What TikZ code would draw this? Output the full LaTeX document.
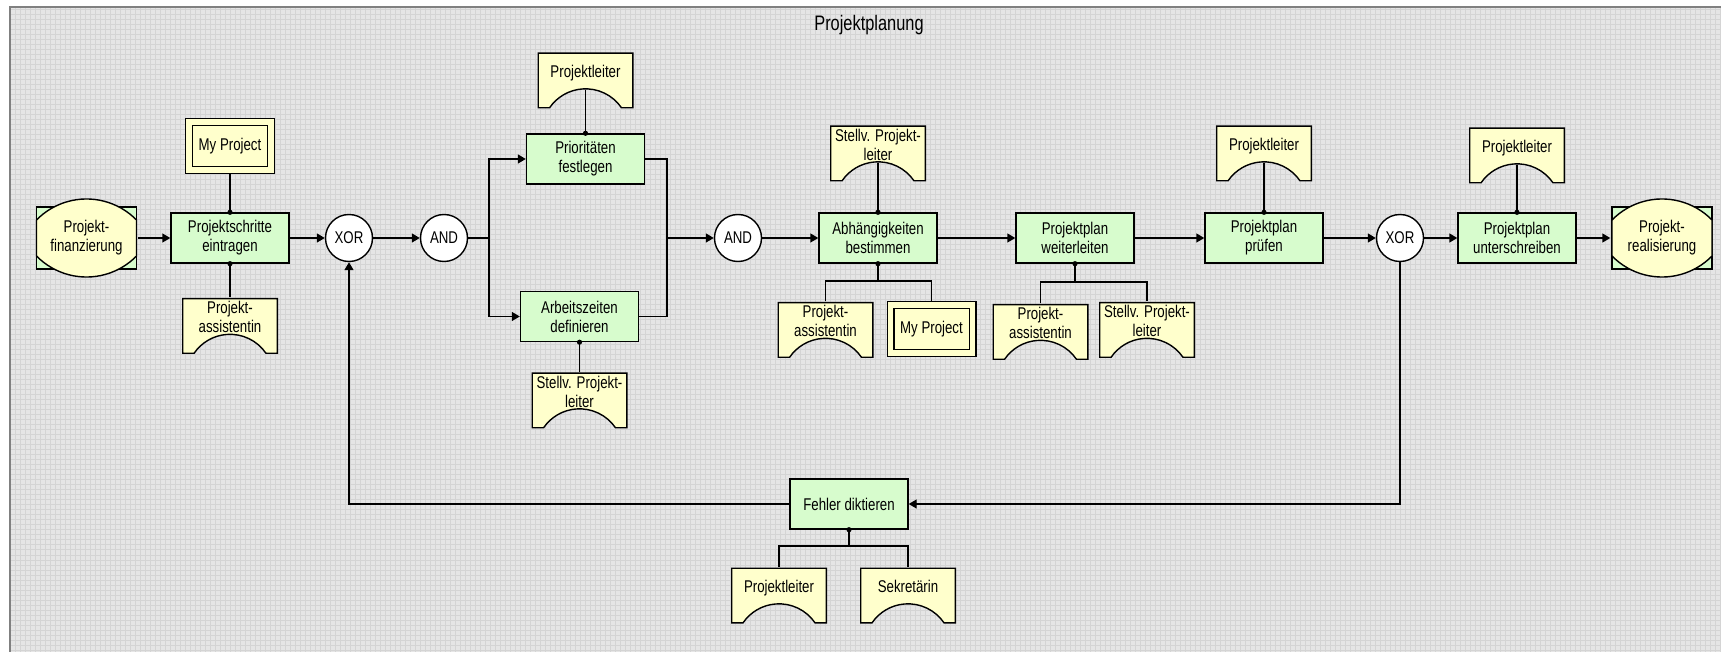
\documentclass[tikz,border=0pt]{standalone}
\usepackage{fontspec}
\setmainfont{Liberation Sans}[FakeStretch=0.78]
\usetikzlibrary{arrows.meta,positioning}

\definecolor{bggray}{RGB}{229,229,229}
\definecolor{gridgray}{RGB}{212,212,212}
\definecolor{framegray}{RGB}{128,128,128}
\definecolor{fgreen}{RGB}{215,252,205}
\definecolor{oyellow}{RGB}{255,255,204}

\tikzset{
  func/.style={rectangle,draw,fill=fgreen,minimum width=59pt,minimum height=25pt,inner sep=1pt,align=center},
  conn/.style={circle,draw,fill=white,minimum size=23.5pt,inner sep=0pt},
  info/.style={rectangle,draw,double=oyellow,double distance=2.6pt,fill=oyellow,
    minimum width=41pt,minimum height=24pt,outer sep=2pt,align=center},
  orgunit/.style={rectangle,minimum width=48pt,minimum height=28pt,inner sep=1pt,text depth=9pt,align=center,
    path picture={
      \draw[fill=oyellow] ([shift={(0.35pt,-0.35pt)}]path picture bounding box.north west)
        -- ([shift={(-0.35pt,-0.35pt)}]path picture bounding box.north east)
        -- ([shift={(-0.35pt,0.35pt)}]path picture bounding box.south east)
        -- ++(-5.65pt,0) arc[start angle=34.4,end angle=145.6,radius=21.8pt]
        -- ([shift={(0.35pt,0.35pt)}]path picture bounding box.south west) -- cycle;
    }},
  event/.style={rectangle,minimum width=51pt,minimum height=40pt,inner sep=1pt,align=center,
    path picture={
      \draw[fill=fgreen] ([shift={(-25pt,-15.5pt)}]path picture bounding box.center)
        rectangle ([shift={(25pt,15.5pt)}]path picture bounding box.center);
      \draw[fill=oyellow] ([shift={(-25pt,9pt)}]path picture bounding box.center)
        arc[start angle=135.6,end angle=44.4,radius=35pt] -- ++(0,-18pt)
        arc[start angle=-44.4,end angle=-135.6,radius=35pt] -- cycle;
    }}
}

\begin{document}
\begin{tikzpicture}[>={Triangle[length=4pt,width=4.5pt]},line width=0.7pt,x=0.5pt,y=0.5pt,
  every node/.style={font=\fontsize{8.5pt}{9.5pt}\selectfont}]

% sheet
\useasboundingbox (0,0) rectangle (1721,-652);
\fill[white] (0,0) rectangle (1721,-652);
\fill[bggray] (10,-8) rectangle (1721,-652);
\draw[gridgray,line width=0.5pt,step=2.5pt] (10,-8) grid (1721,-652);
\draw[framegray,line width=1pt] (9.5,-652) -- (9.5,-7.5) -- (1721,-7.5);

\node (title) at (869,-25) [font=\fontsize{10.5pt}{12pt}\selectfont] {Projektplanung};

% process chain
\node[event] (EF) at (86.5,-238) {Projekt-\\finanzierung};
\node[func] (F1) at (230,-238) {Projektschritte\\eintragen};
\node[conn] (X1) at (349,-238) {XOR};
\node[conn] (A1) at (444,-238) {AND};
\node[func] (F2) at (585.5,-159) {Prioritäten\\festlegen};
\node[func] (F3) at (579.5,-316.5) {Arbeitszeiten\\definieren};
\node[conn] (A2) at (738,-238) {AND};
\node[func] (F4) at (878,-238) {Abhängigkeiten\\bestimmen};
\node[func] (F5) at (1075,-238) {Projektplan\\weiterleiten};
\node[func] (F6) at (1264,-238) {Projektplan\\prüfen};
\node[conn] (X2) at (1400,-238) {XOR};
\node[func] (F7) at (1517,-238) {Projektplan\\unterschreiben};
\node[event] (ER) at (1662,-238) {Projekt-\\realisierung};
\node[func] (F8) at (849,-504) {Fehler diktieren};

% roles and data
\node[info] (M1) at (230,-146) {My Project};
\node[orgunit] (O1) at (230,-326) {Projekt-\\assistentin};
\node[orgunit] (O2) at (585.5,-80.5) {Projektleiter};
\node[orgunit] (O3) at (579.5,-400.5) {Stellv. Projekt-\\leiter};
\node[orgunit] (O4) at (878,-153.5) {Stellv. Projekt-\\leiter};
\node[orgunit] (O5) at (825.5,-330) {Projekt-\\assistentin};
\node[info] (M2) at (931.5,-329) {My Project};
\node[orgunit] (O6) at (1040.5,-332) {Projekt-\\assistentin};
\node[orgunit] (O7) at (1147,-330) {Stellv. Projekt-\\leiter};
\node[orgunit] (O8) at (1264,-153.5) {Projektleiter};
\node[orgunit] (O9) at (1517,-155.5) {Projektleiter};
\node[orgunit] (O10) at (779,-595.5) {Projektleiter};
\node[orgunit] (O11) at (908,-595.5) {Sekretärin};

\coordinate (S1) at (489,-238);
\coordinate (J1) at (667,-238);
\coordinate (B4) at (878,-281);
\coordinate (B5) at (1075,-282);
\coordinate (B8) at (849,-546);

\path[->]
(EF) edge (F1)
(F1) edge (X1)
(X1) edge (A1)
(J1) edge (A2)
(A2) edge (F4)
(F4) edge (F5)
(F5) edge (F6)
(F6) edge (X2)
(X2) edge (F7)
(F7) edge (ER);
\draw (A1) -- (S1);
\draw[->] (S1) |- (F2);
\draw[->] (S1) |- (F3);
\draw (F2) -| (J1);
\draw (F3) -| (J1);
\draw[->] (X2) |- (F8);
\draw[->] (F8) -| (X1);

\draw (M1) -- (F1);
\draw (O1) -- (F1);
\draw ([yshift=9.8pt]O2.south) -- (F2);
\draw (O3) -- (F3);
\draw ([yshift=9.8pt]O4.south) -- (F4);
\draw (F4) -- (B4);
\draw (O5) |- (B4) -| (M2);
\draw (F5) -- (B5);
\draw (O6) |- (B5) -| (O7);
\draw ([yshift=9.8pt]O8.south) -- (F6);
\draw ([yshift=9.8pt]O9.south) -- (F7);
\draw (F8) -- (B8);
\draw (O10) |- (B8) -| (O11);

\foreach \f in {F1,F2,F4,F6,F7} \fill (\f.north) circle[radius=1.3pt];
\foreach \f in {F1,F3,F4,F5,F8} \fill (\f.south) circle[radius=1.3pt];
\end{tikzpicture}
\end{document}
